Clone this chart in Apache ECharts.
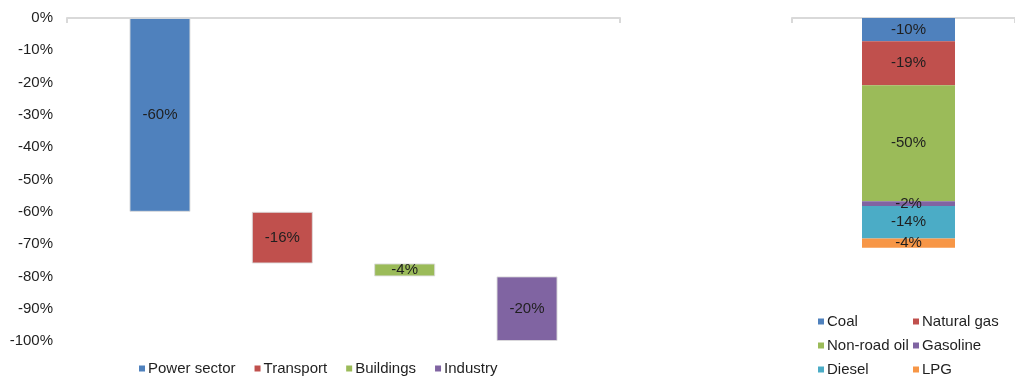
<!DOCTYPE html>
<html>
<head>
<meta charset="utf-8">
<script src="https://cdn.jsdelivr.net/npm/echarts@6/dist/echarts.min.js"></script>
<style>
  html, body { margin: 0; padding: 0; background: #fff; }
  #chart { width: 1015px; height: 376px; }
</style>
</head>
<body>
<div id="chart"></div>
<script>
// Emission reductions by sector (waterfall) and by fuel (stacked column)
const sectors = ['Power sector', 'Transport', 'Buildings', 'Industry'];
const sectorChange = [-60, -16, -4, -20];
const sectorColors = ['#4f81bd', '#c0504d', '#9bbb59', '#8064a2'];

const fuels = ['Coal', 'Natural gas', 'Non-road oil', 'Gasoline', 'Diesel', 'LPG'];
const fuelChange = [-10, -19, -50, -2, -14, -4];
const fuelColors = ['#4f81bd', '#c0504d', '#9bbb59', '#8064a2', '#4bacc6', '#f79646'];

const axisMin = -100;
const axisMax = 0;
const axisStep = 10;

const FONT = "'Liberation Sans', Arial, sans-serif";
const TEXT = '#1f1f1f';
const LINE = '#d9d9d9';

// running total used as the invisible base of each waterfall step
const sectorBase = [];
let running = 0;
sectorChange.forEach(v => { sectorBase.push(running); running += v; });

const pct = p => p.value + '%';
const insideLabel = { show: true, position: 'inside', formatter: pct, color: TEXT, fontSize: 15, fontFamily: FONT };

const frameAxis = grid => ({
  type: 'category', gridIndex: grid, data: [''], position: 'top',
  axisLine: { show: true, lineStyle: { color: LINE, width: 2 } },
  axisTick: { show: true, inside: true, length: 5, lineStyle: { color: LINE, width: 2 } },
  axisLabel: { show: false }
});
const hiddenValue = (grid, min) => ({
  type: 'value', gridIndex: grid, min: min, max: axisMax,
  axisLine: { show: false }, axisTick: { show: false }, axisLabel: { show: false }, splitLine: { show: false }
});

const series = [];
// invisible base
series.push({
  name: 'base', type: 'bar', xAxisIndex: 1, yAxisIndex: 1, stack: 'sector',
  data: sectorBase, barWidth: 61, silent: true,
  itemStyle: { color: 'transparent' }
});
sectors.forEach((name, i) => {
  series.push({
    name: name, type: 'bar', xAxisIndex: 1, yAxisIndex: 1, stack: 'sector',
    barWidth: 61,
    data: sectors.map((_, j) => j === i ? sectorChange[i] : '-'),
    itemStyle: { color: sectorColors[i], borderColor: 'rgba(220,220,220,0.9)', borderWidth: 1 },
    label: insideLabel
  });
});
fuels.forEach((name, i) => {
  series.push({
    name: name, type: 'bar', xAxisIndex: 3, yAxisIndex: 3, stack: 'fuel',
    barWidth: 93,
    data: [fuelChange[i]],
    itemStyle: { color: fuelColors[i] },
    label: insideLabel
  });
});

const legendBase = {
  icon: 'rect', itemWidth: 6, itemHeight: 6, padding: 0,
  itemStyle: { borderWidth: 0 },
  textStyle: { color: TEXT, fontSize: 15, fontFamily: FONT, padding: [0, 0, 0, -2] }
};

const option = {
  animation: false,
  backgroundColor: '#ffffff',
  color: sectorColors,
  grid: [
    { left: 67, width: 553, top: 18, height: 323 },
    { left: 98.8, width: 489.4, top: 18, height: 323 },
    { left: 792, right: 0, top: 18, height: 232 },
    { left: 815, width: 187, top: 18, height: 232 }
  ],
  xAxis: [
    frameAxis(0),
    { type: 'category', gridIndex: 1, data: sectors, show: false },
    frameAxis(2),
    { type: 'category', gridIndex: 3, data: ['Fuel'], show: false }
  ],
  yAxis: [
    {
      type: 'value', gridIndex: 0, min: axisMin, max: axisMax, interval: axisStep,
      axisLine: { show: false }, axisTick: { show: false }, splitLine: { show: false },
      axisLabel: { formatter: '{value}%', color: TEXT, fontSize: 15, fontFamily: FONT, margin: 14 }
    },
    hiddenValue(1, axisMin),
    hiddenValue(2, axisMin),
    hiddenValue(3, axisMin)
  ],
  legend: [
    Object.assign({}, legendBase, { data: sectors, left: 139, top: 361, itemGap: 19, orient: 'horizontal' }),
    Object.assign({}, legendBase, { data: ['Coal', 'Non-road oil', 'Diesel'], left: 818, top: 314, height: 70, itemGap: 9, orient: 'vertical' }),
    Object.assign({}, legendBase, { data: ['Natural gas', 'Gasoline', 'LPG'], left: 913, top: 314, height: 70, itemGap: 9, orient: 'vertical' })
  ],
  series: series
};

const chart = echarts.init(document.getElementById('chart'), null, { renderer: 'canvas' });
chart.setOption(option);
</script>
</body>
</html>
